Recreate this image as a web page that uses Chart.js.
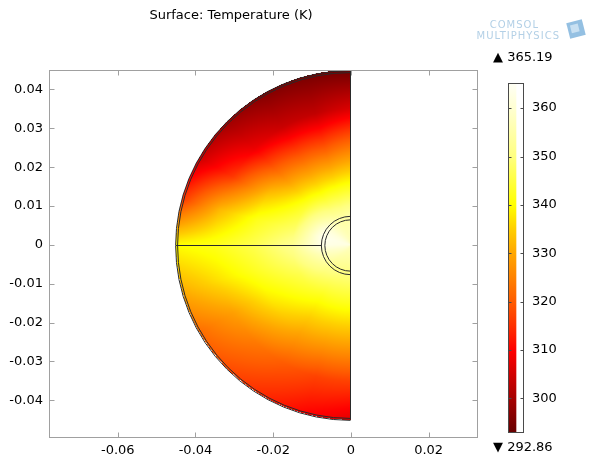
<!DOCTYPE html>
<html>
<head>
<meta charset="utf-8">
<script src="https://cdn.jsdelivr.net/npm/chart.js@4/dist/chart.umd.min.js"></script>
<style>
html,body{margin:0;padding:0;background:#fff;}
#wrap{position:relative;width:589px;height:464px;overflow:hidden;background:#fff;}
#main{position:absolute;left:0;top:0;}
#cbar{position:absolute;left:470px;top:40px;}
</style>
</head>
<body>
<div id="wrap">
<canvas id="main" width="589" height="464"></canvas>
<canvas id="cbar" width="119" height="424"></canvas>
</div>
<script>
// ---------------- data ----------------
const titleText = 'Surface: Temperature (K)';
const xTicks = [-0.06, -0.04, -0.02, 0, 0.02];
const yTicks = [-0.04, -0.03, -0.02, -0.01, 0, 0.01, 0.02, 0.03, 0.04];
const xRange = [-0.0777, 0.0327];
const yRange = [-0.0497, 0.0450];
// polar sample grid: angle from +y axis towards -x (deg), radius (m)
const angleDeg = [0, 15, 30, 45, 60, 75, 90, 105, 120, 135, 150, 165, 180];
const radiusM = [0, 0.0075, 0.015, 0.025, 0.035, 0.045];
// temperature (K), one row per angle, one column per radius
const tempK = [
  [358, 355, 342, 324, 306, 294],
  [358, 354, 341, 321, 303, 295],
  [359, 355, 341, 322, 304, 296],
  [360, 358, 343, 325, 308, 299],
  [361, 362, 345, 334, 316, 304],
  [362, 364, 348, 342, 332, 316],
  [362, 363, 352, 346, 342, 340],
  [361, 358, 349, 343, 337, 331],
  [360, 355, 346, 339, 329, 322],
  [359, 352, 344, 335, 324, 318],
  [358, 351, 342, 331, 320, 314],
  [358, 350, 342, 330, 317, 310],
  [358, 350, 342, 330, 317, 307]
];
const outerRadii = [0.0445, 0.045];
const holeRadii = [0.0066, 0.0075];
const cbTicks = [300, 310, 320, 330, 340, 350, 360];
const tMin = 292.86;
const tMax = 365.19;

// ---------------- style ----------------
const FONT = '"DejaVu Sans", "Liberation Sans", sans-serif';
const cmapStops = [
  [292.86, [0x66, 0x00, 0x00]],
  [300, [0xa6, 0x00, 0x00]],
  [305, [0xd2, 0x00, 0x00]],
  [310, [0xff, 0x00, 0x00]],
  [315, [0xff, 0x30, 0x00]],
  [320, [0xff, 0x5c, 0x00]],
  [325, [0xff, 0x82, 0x00]],
  [330, [0xff, 0xa6, 0x00]],
  [335, [0xff, 0xcf, 0x00]],
  [340, [0xff, 0xff, 0x00]],
  [345, [0xff, 0xff, 0x40]],
  [350, [0xff, 0xff, 0x80]],
  [360, [0xff, 0xff, 0xd2]],
  [365.19, [0xff, 0xff, 0xf6]]
];
function colorFor(t) {
  if (t <= cmapStops[0][0]) return cmapStops[0][1];
  for (let i = 1; i < cmapStops.length; i++) {
    if (t <= cmapStops[i][0]) {
      const a = cmapStops[i - 1], b = cmapStops[i];
      const f = (t - a[0]) / (b[0] - a[0]);
      return [0, 1, 2].map(k => a[1][k] + (b[1][k] - a[1][k]) * f);
    }
  }
  return cmapStops[cmapStops.length - 1][1];
}
function locate(arr, v) {
  let i = 0;
  while (i < arr.length - 2 && v > arr[i + 1]) i++;
  let f = (v - arr[i]) / (arr[i + 1] - arr[i]);
  f = Math.max(0, Math.min(1, f));
  return [i, f];
}
function tempAt(x, y) {
  const r = Math.hypot(x, y);
  const phi = Math.atan2(-x, y) * 180 / Math.PI;
  const [i, fa] = locate(angleDeg, phi);
  const [j, fr] = locate(radiusM, r);
  const t00 = tempK[i][j], t01 = tempK[i][j + 1], t10 = tempK[i + 1][j], t11 = tempK[i + 1][j + 1];
  return (t00 * (1 - fr) + t01 * fr) * (1 - fa) + (t10 * (1 - fr) + t11 * fr) * fa;
}
const tickLabel = v => String(+(+v).toFixed(4));

// ---------------- main plot plugin ----------------
const fieldPlugin = {
  id: 'field',
  beforeDatasetsDraw(chart) {
    const {ctx, chartArea: ca, scales: {x: xs, y: ys}} = chart;
    const w = Math.round(ca.right - ca.left), h = Math.round(ca.bottom - ca.top);
    const off = document.createElement('canvas');
    off.width = w; off.height = h;
    const octx = off.getContext('2d');
    const img = octx.createImageData(w, h);
    const Rmax = outerRadii[outerRadii.length - 1];
    for (let py = 0; py < h; py++) {
      const yv = ys.getValueForPixel(ca.top + py + 0.5);
      for (let px = 0; px < w; px++) {
        const xv = xs.getValueForPixel(ca.left + px + 0.5);
        if (xv > 0 || Math.hypot(xv, yv) > Rmax) continue;
        const c = colorFor(tempAt(xv, yv));
        const k = (py * w + px) * 4;
        img.data[k] = c[0]; img.data[k + 1] = c[1]; img.data[k + 2] = c[2]; img.data[k + 3] = 255;
      }
    }
    octx.putImageData(img, 0, 0);
    ctx.drawImage(off, Math.round(ca.left), Math.round(ca.top));
  },
  afterDatasetsDraw(chart) {
    const {ctx, scales: {x: xs, y: ys}} = chart;
    const cx = xs.getPixelForValue(0), cy = ys.getPixelForValue(0);
    const cxs = Math.floor(cx) + 0.5, cys = Math.round(cy) + 0.5;
    ctx.save();
    ctx.strokeStyle = '#2a2a2a';
    ctx.lineWidth = 1;
    const halfArc = r => {
      const rx = cx - xs.getPixelForValue(-r), ry = ys.getPixelForValue(-r) - cy;
      ctx.beginPath();
      ctx.ellipse(cxs, cys, rx, ry, 0, Math.PI / 2, 3 * Math.PI / 2);
      ctx.stroke();
    };
    outerRadii.forEach(halfArc);
    holeRadii.forEach(halfArc);
    const R = outerRadii[outerRadii.length - 1];
    ctx.beginPath();
    ctx.moveTo(cxs, ys.getPixelForValue(R));
    ctx.lineTo(cxs, ys.getPixelForValue(-R));
    ctx.stroke();
    ctx.beginPath();
    ctx.moveTo(xs.getPixelForValue(-R), cys);
    ctx.lineTo(xs.getPixelForValue(-holeRadii[holeRadii.length - 1]), cys);
    ctx.stroke();
    ctx.restore();
  },
  afterDraw(chart) {
    const {ctx, chartArea: ca, scales: {x: xs, y: ys}} = chart;
    ctx.save();
    ctx.strokeStyle = '#a0a0a0';
    ctx.lineWidth = 1;
    const L = Math.round(ca.left) + 0.5, Rr = Math.round(ca.right) - 0.5;
    const T = Math.round(ca.top) + 0.5, B = Math.round(ca.bottom) - 0.5;
    ctx.strokeRect(L, T, Rr - L, B - T);
    ctx.beginPath();
    xTicks.forEach(v => {
      const p = Math.round(xs.getPixelForValue(v)) + 0.5;
      ctx.moveTo(p, B); ctx.lineTo(p, B - 5);
      ctx.moveTo(p, T); ctx.lineTo(p, T + 5);
    });
    yTicks.forEach(v => {
      const p = Math.round(ys.getPixelForValue(v)) + 0.5;
      ctx.moveTo(L, p); ctx.lineTo(L + 5, p);
      ctx.moveTo(Rr, p); ctx.lineTo(Rr - 5, p);
    });
    ctx.stroke();
    // title
    ctx.fillStyle = '#000';
    ctx.font = '13px ' + FONT;
    ctx.textAlign = 'center';
    ctx.textBaseline = 'middle';
    ctx.fillText(titleText, 231, 16);
    // logo text
    ctx.fillStyle = '#b3d0e6';
    ctx.textAlign = 'right';
    ctx.textBaseline = 'alphabetic';
    if ('letterSpacing' in ctx) ctx.letterSpacing = '1px';
    ctx.font = '10px ' + FONT;
    ctx.fillText('COMSOL', 539, 28);
    ctx.fillText('MULTIPHYSICS', 560, 39);
    if ('letterSpacing' in ctx) ctx.letterSpacing = '0px';
    // logo cube
    ctx.translate(576, 29);
    ctx.rotate(-0.25);
    ctx.fillStyle = '#94c0e2';
    ctx.fillRect(-8, -8, 16, 16);
    ctx.fillStyle = '#c8e0f2';
    ctx.fillRect(-5, -5, 8, 8);
    ctx.restore();
  }
};

new Chart(document.getElementById('main'), {
  type: 'scatter',
  data: {datasets: [{data: [], pointRadius: 0}]},
  options: {
    responsive: false,
    animation: false,
    devicePixelRatio: 1,
    layout: {padding: {left: 0, top: 70, right: 111, bottom: 0}},
    plugins: {legend: {display: false}, tooltip: {enabled: false}, title: {display: false}},
    scales: {
      x: {
        type: 'linear', min: xRange[0], max: xRange[1],
        afterBuildTicks: ax => { ax.ticks = xTicks.map(v => ({value: v})); },
        afterFit: ax => { ax.height = 26; },
        grid: {display: false, drawTicks: false},
        border: {display: false},
        ticks: {callback: tickLabel, color: '#000', font: {family: FONT, size: 13}, padding: 5, maxRotation: 0}
      },
      y: {
        type: 'linear', min: yRange[0], max: yRange[1],
        afterBuildTicks: ax => { ax.ticks = yTicks.map(v => ({value: v})); },
        afterFit: ax => { ax.width = 49; },
        grid: {display: false, drawTicks: false},
        border: {display: false},
        ticks: {callback: tickLabel, color: '#000', font: {family: FONT, size: 13}, padding: 6}
      }
    }
  },
  plugins: [fieldPlugin]
});

// ---------------- colour bar ----------------
const cbarPlugin = {
  id: 'cbarDeco',
  afterDraw(chart) {
    const {ctx, chartArea: ca, scales: {y: ys}} = chart;
    ctx.save();
    const L = Math.round(ca.left) + 0.5, R = Math.round(ca.right) - 0.5;
    const T = Math.round(ca.top) + 0.5, B = Math.round(ca.bottom) - 0.5;
    ctx.strokeStyle = '#4a4a4a';
    ctx.lineWidth = 1;
    ctx.strokeRect(L, T, R - L, B - T);
    ctx.beginPath();
    cbTicks.forEach(v => {
      const p = Math.round(ys.getPixelForValue(v)) + 0.5;
      ctx.moveTo(L, p); ctx.lineTo(L + 3, p);
      ctx.moveTo(R, p); ctx.lineTo(R - 3, p);
    });
    ctx.stroke();
    ctx.fillStyle = '#000';
    ctx.font = '13px ' + FONT;
    ctx.textAlign = 'left';
    ctx.textBaseline = 'middle';
    ctx.fillText('\u25B2 ' + tMax.toFixed(2), 23, ys.getPixelForValue(tMax) - 25);
    ctx.fillText('\u25BC ' + tMin.toFixed(2), 23, ys.getPixelForValue(tMin) + 15);
    ctx.restore();
  }
};

new Chart(document.getElementById('cbar'), {
  type: 'bar',
  data: {
    labels: ['T'],
    datasets: [{
      data: [[tMin, tMax]],
      borderWidth: 0,
      barPercentage: 1,
      categoryPercentage: 1,
      backgroundColor: (c) => {
        const ch = c.chart, ys = ch.scales.y;
        if (!ys || !ch.chartArea) return '#ff0';
        const g = ch.ctx.createLinearGradient(0, ys.getPixelForValue(tMin), 0, ys.getPixelForValue(tMax));
        cmapStops.forEach(([t, rgb]) => g.addColorStop((t - tMin) / (tMax - tMin), 'rgb(' + rgb.map(Math.round).join(',') + ')'));
        return g;
      }
    }]
  },
  options: {
    responsive: false,
    animation: false,
    devicePixelRatio: 1,
    layout: {padding: {left: 38, top: 43, right: 0, bottom: 31}},
    plugins: {legend: {display: false}, tooltip: {enabled: false}},
    scales: {
      x: {display: false, offset: false},
      y: {
        position: 'right', min: tMin, max: tMax,
        afterBuildTicks: ax => { ax.ticks = cbTicks.map(v => ({value: v})); },
        afterFit: ax => { ax.width = 65; },
        grid: {display: false, drawTicks: false},
        border: {display: false},
        ticks: {color: '#000', font: {family: FONT, size: 13}, padding: 8, callback: v => String(v)}
      }
    }
  },
  plugins: [cbarPlugin]
});
</script>
</body>
</html>
